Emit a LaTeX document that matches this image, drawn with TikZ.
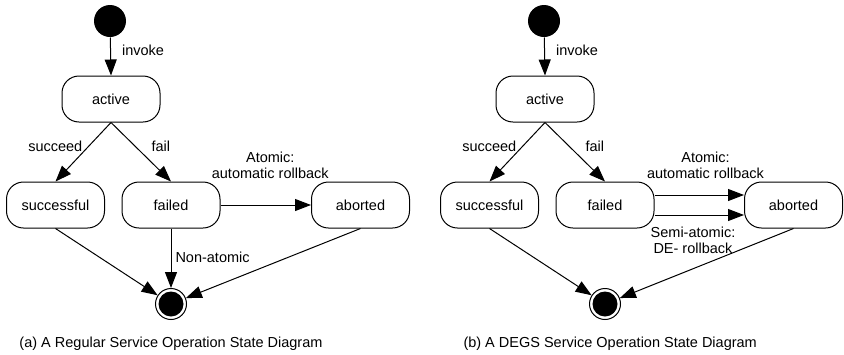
\documentclass[tikz,border=0pt]{standalone}
\usepackage{fontspec}
\setmainfont{Liberation Sans}
\usetikzlibrary{arrows.meta,positioning}

\begin{document}
\begin{tikzpicture}[x=1pt,y=-1pt,line width=1pt,
  font=\fontsize{14.5}{16}\selectfont,
  state/.style={draw, rounded corners=17pt, minimum width=98pt, minimum height=46pt, inner sep=0pt},
  initstate/.style={circle, fill=black, minimum size=32pt, inner sep=0pt},
  finalstate/.style={circle, draw, minimum size=31pt, inner sep=0pt,
    path picture={\fill[black] (path picture bounding box.center) circle (12.5pt);}},
  trans/.style={-{Triangle[length=16pt,width=12pt]}},
  lbl/.style={inner sep=0pt, align=center},
]
\useasboundingbox (0,0) rectangle (844,354);

% ---- (a) regular service operation ----
\node[initstate] (a-start) at (110,21) {};
\node[state] (a-active) at (111,99) {active};
\node[state] (a-succ) at (55.5,205) {successful};
\node[state] (a-fail) at (171,205) {failed};
\node[state] (a-abort) at (360.5,205) {aborted};
\node[finalstate] (a-final) at (171,304) {};

\draw[trans] (a-start) -- (a-active.north) node[lbl, pos=0.33, right=11pt] (a-l-invoke) {invoke};
\draw[trans] (a-active.south) -- (a-succ.north) node[lbl, pos=0.4, left=6pt] (a-l-succ) {succeed};
\draw[trans] (a-active.south) -- (a-fail.north) node[lbl, pos=0.4, right=16pt] (a-l-fail) {fail};
\draw[trans] (a-fail.east) -- (a-abort.west)
  node[lbl, pos=0.55, above=26pt] (a-l-atomic) {Atomic:\\automatic rollback};
\draw[trans] (a-succ.south) -- (a-final);
\draw[trans] (a-fail.south) -- (a-final.north) node[lbl, pos=0.48, right=4pt] (a-l-non) {Non-atomic};
\draw[trans] (a-abort.south) -- (a-final);

\node[lbl, anchor=base west] (a-caption) at (19,347) {(a) A Regular Service Operation State Diagram};

% ---- (b) DEGS service operation ----
\node[initstate] (b-start) at (544,21) {};
\node[state] (b-active) at (545,99) {active};
\node[state] (b-succ) at (489.5,205) {successful};
\node[state] (b-fail) at (605,205) {failed};
\node[state] (b-abort) at (793.5,205) {aborted};
\node[finalstate] (b-final) at (605,304) {};

\draw[trans] (b-start) -- (b-active.north) node[lbl, pos=0.33, right=11pt] (b-l-invoke) {invoke};
\draw[trans] (b-active.south) -- (b-succ.north) node[lbl, pos=0.4, left=6pt] (b-l-succ) {succeed};
\draw[trans] (b-active.south) -- (b-fail.north) node[lbl, pos=0.4, right=16pt] (b-l-fail) {fail};
\draw[trans] ([yshift=10pt]b-fail.east) -- ([yshift=10pt]b-abort.west)
  node[lbl, pos=0.57, above=16pt] (b-l-atomic) {Atomic:\\automatic rollback};
\draw[trans] ([yshift=-10pt]b-fail.east) -- ([yshift=-10pt]b-abort.west)
  node[lbl, pos=0.43, below=11pt] (b-l-semi) {Semi-atomic:\\DE- rollback};
\draw[trans] (b-succ.south) -- (b-final);
\draw[trans] (b-abort.south) -- (b-final);

\node[lbl, anchor=base west] (b-caption) at (463,347) {(b) A DEGS Service Operation State Diagram};
\end{tikzpicture}
\end{document}
